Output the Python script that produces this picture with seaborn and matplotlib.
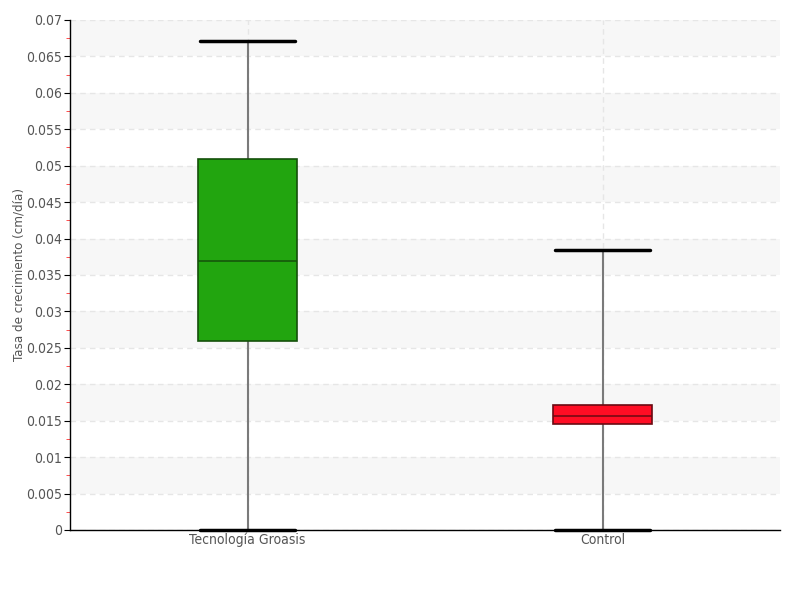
import numpy as np
import pandas as pd
import matplotlib
matplotlib.use("Agg")
import matplotlib.pyplot as plt
from matplotlib.ticker import MultipleLocator
import seaborn as sns

# five-number summaries: min, q1, median, q3, max
groups = ["Tecnología Groasis", "Control"]
groasis_vals = [0.0, 0.0259, 0.0369, 0.0509, 0.0671]
control_vals = [0.0, 0.01455, 0.01565, 0.01716, 0.0384]
fill_colors = ["#22A50F", "#FF0D24"]
edge_colors = ["#14500A", "#6A0A12"]

df = pd.DataFrame({
    "grupo": [groups[0]] * len(groasis_vals) + [groups[1]] * len(control_vals),
    "tasa": groasis_vals + control_vals,
})

sns.set_style("white")
plt.rcParams["font.family"] = ["DejaVu Sans"]
plt.rcParams["font.stretch"] = "condensed"

fig = plt.figure(figsize=(8, 6), dpi=100)
ax = fig.add_axes([0.0875, 0.1167, 0.8875, 0.85])

sns.boxplot(
    data=df, x="grupo", y="tasa", hue="grupo", order=groups,
    palette=fill_colors, saturation=1, whis=(0, 100), width=0.28,
    legend=False, ax=ax,
    whiskerprops=dict(color="#7A7A7A", linewidth=1.5),
    capprops=dict(color="black", linewidth=2.5),
    medianprops=dict(linewidth=1.1),
    boxprops=dict(linewidth=1.2),
)

box_patches = list(ax.patches)
for patch, ec in zip(box_patches, edge_colors):
    patch.set_edgecolor(ec)
    patch.set_zorder(3)

# caps: widen to almost the box width, keep bottom ones unclipped
# medians: keep above the boxes
median_lines = []
for line in ax.lines:
    if line.get_linewidth() == 2.5:
        xd = np.asarray(line.get_xdata(), dtype=float)
        c = xd.mean()
        line.set_xdata([c - 0.135, c + 0.135])
        line.set_clip_on(False)
        line.set_zorder(4)
    elif line.get_linewidth() == 1.1:
        median_lines.append(line)
for line, ec in zip(median_lines, edge_colors):
    line.set_color(ec)
    line.set_zorder(4)

# alternating light bands
for lo in np.arange(0.005, 0.07, 0.01):
    ax.axhspan(lo, lo + 0.005, color="#F7F7F7", zorder=0, lw=0)

ax.set_xlim(-0.5, 1.5)
ax.set_ylim(0, 0.07)
ax.yaxis.set_major_locator(MultipleLocator(0.005))
ax.yaxis.set_minor_locator(MultipleLocator(0.0025))
ax.set_yticklabels([f"{v:g}" for v in ax.get_yticks()])

ax.grid(True, axis="both", which="major", linestyle=(0, (4, 3)), color="#E6E6E6", linewidth=1)
ax.set_axisbelow(True)

for s in ["top", "right"]:
    ax.spines[s].set_visible(False)
for s in ["left", "bottom"]:
    ax.spines[s].set_color("black")
    ax.spines[s].set_linewidth(1)

ax.tick_params(axis="y", which="major", direction="out", length=4, color="black",
               labelsize=10, labelcolor="#555555", left=True, pad=2)
ax.tick_params(axis="y", which="minor", direction="out", length=3, color="#FF3030", left=True)
ax.tick_params(axis="x", length=0, labelsize=10, labelcolor="#555555", pad=2)

ax.set_xlabel("")
ax.set_ylabel("Tasa de crecimiento (cm/día)", fontsize=9.5, color="#555555")
ax.yaxis.set_label_coords(-0.062, 0.5)

fig.savefig("out.png", dpi=100)
